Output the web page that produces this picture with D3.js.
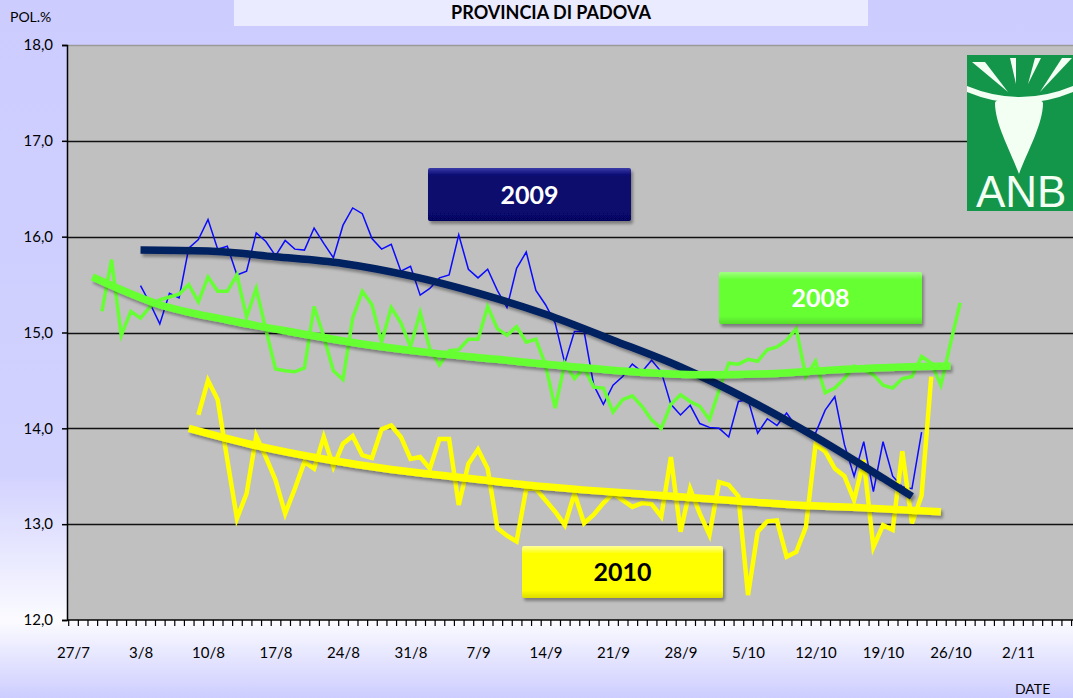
<!DOCTYPE html>
<html>
<head>
<meta charset="utf-8">
<script src="https://cdn.jsdelivr.net/npm/d3@7"></script>
<style>
  html, body { margin: 0; padding: 0; overflow: hidden; }
  svg { display: block; font-family: Lato, 'DejaVu Sans', sans-serif; }
</style>
</head>
<body>
<svg id="chart" width="1073" height="698"></svg>
<script>
// tick labels
const weekLabels = ['27/7', '3/8', '10/8', '17/8', '24/8', '31/8', '7/9', '14/9', '21/9', '28/9', '5/10', '12/10', '19/10', '26/10', '2/11'];
const yTicks = [12, 13, 14, 15, 16, 17, 18];

// daily POL.% readings, one value per day from the start date
const start2008 = '30/7';
const values2008 = [15.22, 15.76, 14.97, 15.22, 15.15, 15.27, 15.34, 15.37, 15.40, 15.50,
  15.32, 15.58, 15.43, 15.43, 15.60, 15.16, 15.46, 15.03, 14.62, 14.60,
  14.59, 14.63, 15.27, 14.96, 14.60, 14.51, 15.15, 15.43, 15.29, 14.90,
  15.26, 15.10, 14.85, 15.21, 14.83, 14.66, 14.81, 14.82, 14.93, 14.93,
  15.27, 15.04, 14.97, 15.06, 14.90, 14.93, 14.66, 14.21, 14.68, 14.52,
  14.63, 14.43, 14.42, 14.17, 14.30, 14.34, 14.23, 14.09, 14.00, 14.25,
  14.35, 14.28, 14.23, 14.09, 14.40, 14.68, 14.67, 14.72, 14.70, 14.82,
  14.85, 14.92, 15.04, 14.54, 14.70, 14.37, 14.42, 14.52, 14.65, 14.61,
  14.56, 14.45, 14.42, 14.52, 14.54, 14.75, 14.68, 14.45, 14.89, 15.31];

const start2009 = '3/8';
const values2009 = [15.49, 15.30, 15.09, 15.41, 15.36, 15.88, 15.97, 16.18, 15.87, 15.90,
  15.60, 15.64, 16.04, 15.95, 15.80, 15.96, 15.87, 15.86, 16.09, 15.93,
  15.78, 16.12, 16.30, 16.24, 15.98, 15.87, 15.92, 15.64, 15.69, 15.39,
  15.46, 15.57, 15.60, 16.02, 15.66, 15.57, 15.66, 15.44, 15.26, 15.67,
  15.84, 15.44, 15.29, 15.10, 14.68, 15.01, 15.01, 14.45, 14.25, 14.45,
  14.54, 14.67, 14.59, 14.71, 14.59, 14.25, 14.14, 14.24, 14.05, 14.01,
  14.00, 13.91, 14.28, 14.30, 13.95, 14.10, 14.03, 14.16, 14.02, 13.95,
  13.95, 14.19, 14.33, 13.83, 13.50, 13.86, 13.34, 13.86, 13.50, 13.39,
  13.37, 13.96];

const start2010 = '9/8';
const values2010 = [14.14, 14.50, 14.30, 13.67, 13.06, 13.32, 13.92, 13.70, 13.46, 13.11,
  13.37, 13.65, 13.58, 13.91, 13.60, 13.84, 13.92, 13.72, 13.69, 13.99,
  14.03, 13.91, 13.68, 13.70, 13.58, 13.89, 13.89, 13.20, 13.63, 13.78,
  13.58, 12.96, 12.88, 12.82, 13.37, 13.37, 13.25, 13.13, 12.99, 13.32,
  13.01, 13.10, 13.22, 13.32, 13.25, 13.18, 13.22, 13.21, 13.08, 13.70,
  12.92, 13.37, 13.11, 12.89, 13.44, 13.41, 13.29, 12.26, 12.92, 13.03,
  13.04, 12.66, 12.71, 12.97, 13.83, 13.76, 13.58, 13.50, 13.25, 13.67,
  12.76, 12.99, 12.94, 13.76, 13.01, 13.30, 14.54];

// trend lines
const trend2008Days = ['29/7', '5/8', '12/8', '19/8', '26/8', '2/9', '9/9', '16/9', '23/9', '30/9', '7/10', '14/10', '21/10', '26/10'];
const trend2008Values = [15.58, 15.29, 15.13, 15.00, 14.88, 14.79, 14.72, 14.65, 14.59, 14.56, 14.57, 14.61, 14.64, 14.65];
const trend2009Days = ['3/8', '10/8', '17/8', '24/8', '31/8', '7/9', '14/9', '21/9', '28/9', '5/10', '12/10', '19/10', '22/10'];
const trend2009Values = [15.86, 15.85, 15.79, 15.72, 15.59, 15.41, 15.19, 14.92, 14.64, 14.30, 13.91, 13.48, 13.29];
const trend2010Days = ['8/8', '15/8', '22/8', '29/8', '5/9', '12/9', '19/9', '26/9', '3/10', '10/10', '17/10', '25/10'];
const trend2010Values = [14.00, 13.82, 13.68, 13.57, 13.49, 13.41, 13.35, 13.30, 13.25, 13.20, 13.17, 13.13];

const DAY = 864e5;
const parseDay = s => {
  const [d, m] = s.split('/').map(Number);
  return new Date(Date.UTC(2009, m - 1, d));
};
const daily = (start, values) => values.map((v, i) => ({date: new Date(parseDay(start).getTime() + i * DAY), value: v}));
const paired = (days, values) => days.map((d, i) => ({date: parseDay(d), value: values[i]}));

const svg = d3.select('#chart');
const W = 1073, H = 698;
const plot = {left: 67, top: 45, bottom: 620};

const defs = svg.append('defs');
const bg = defs.append('linearGradient').attr('id', 'bg').attr('x1', 0).attr('y1', 0).attr('x2', 0).attr('y2', 1);
bg.append('stop').attr('offset', '0%').attr('stop-color', '#ccccff');
bg.append('stop').attr('offset', '68%').attr('stop-color', '#d2d2ff');
bg.append('stop').attr('offset', '89%').attr('stop-color', '#fbfbff');
bg.append('stop').attr('offset', '100%').attr('stop-color', '#cdcdff');

const shadow = defs.append('filter').attr('id', 'shadow').attr('x', '-10%').attr('y', '-10%').attr('width', '130%').attr('height', '140%');
shadow.append('feDropShadow').attr('dx', 2).attr('dy', 3).attr('stdDeviation', 1.5)
  .attr('flood-color', '#000').attr('flood-opacity', 0.35);

function boxGradient(id, top, bottom) {
  const g = defs.append('linearGradient').attr('id', id).attr('x1', 0).attr('y1', 0).attr('x2', 0).attr('y2', 1);
  g.append('stop').attr('offset', '0%').attr('stop-color', top);
  g.append('stop').attr('offset', '15%').attr('stop-color', bottom);
  g.append('stop').attr('offset', '85%').attr('stop-color', bottom);
  g.append('stop').attr('offset', '100%').attr('stop-color', d3.color(bottom).darker(0.4));
}
boxGradient('g2009', '#3a3aa8', '#07076e');
boxGradient('g2008', '#a2ff84', '#66ff33');
boxGradient('g2010', '#ffff9a', '#ffff00');

defs.append('clipPath').attr('id', 'clip')
  .append('rect').attr('x', plot.left).attr('y', plot.top).attr('width', W - plot.left).attr('height', plot.bottom - plot.top);

// background
svg.append('rect').attr('width', W).attr('height', H).attr('fill', 'url(#bg)');

// title box
svg.append('rect').attr('x', 234).attr('y', 0).attr('width', 634).attr('height', 26).attr('fill', '#ebebff');
svg.append('text').attr('x', 551).attr('y', 19).attr('text-anchor', 'middle')
  .attr('font-size', 18).attr('font-weight', 700).attr('fill', '#000').text('PROVINCIA DI PADOVA');

// scales
const x = d3.scaleUtc()
  .domain([new Date(Date.UTC(2009, 6, 26, 12)), new Date(Date.UTC(2009, 10, 8, 12))])
  .range([68.2, 68.2 + 9.643 * 105]);
const y = d3.scaleLinear().domain([12, 18]).range([plot.bottom, plot.top]);

// plot area
svg.append('rect').attr('x', plot.left).attr('y', plot.top).attr('width', W - plot.left).attr('height', plot.bottom - plot.top)
  .attr('fill', '#c0c0c0');
svg.append('line').attr('x1', plot.left).attr('x2', W).attr('y1', plot.top + 0.5).attr('y2', plot.top + 0.5)
  .attr('stroke', '#9a9a9a').attr('stroke-width', 1.5);

svg.append('g').selectAll('line')
  .data(yTicks.filter(t => t > 12 && t < 18))
  .join('line')
  .attr('x1', plot.left).attr('x2', W)
  .attr('y1', d => Math.round(y(d)) + 0.5).attr('y2', d => Math.round(y(d)) + 0.5)
  .attr('stroke', '#111').attr('stroke-width', 1.4);

// logo
const logo = svg.append('g');
logo.append('rect').attr('x', 967).attr('y', 55).attr('width', 110).attr('height', 156).attr('fill', '#14964a');
const rays = [[972, 62, 985, 62, 1008, 92], [1010, 58, 1016, 58, 1016, 84], [1035, 58, 1041, 58, 1028, 84], [1062, 58, 1072, 58, 1040, 92]];
logo.selectAll('path.ray').data(rays).join('path').attr('class', 'ray')
  .attr('d', r => `M${r[0]},${r[1]}L${r[2]},${r[3]}L${r[4]},${r[5]}Z`).attr('fill', '#f4fff4');
logo.append('path').attr('d', 'M967,86 Q1020,108 1073,86 L1073,92 Q1020,114 967,92 Z').attr('fill', '#f4fff4');
logo.append('path')
  .attr('d', 'M995,103 C995,96 1043,96 1043,103 C1043,124 1028,150 1019,174 C1010,150 995,124 995,103 Z')
  .attr('fill', '#f4fff4');
logo.append('text').attr('x', 976).attr('y', 207).attr('font-size', 44).attr('fill', '#f4fff4')
  .attr('font-family', "'Liberation Sans', Arial, sans-serif").text('ANB');

// series
const lineGen = d3.line().x(d => x(d.date)).y(d => y(d.value));
const trendGen = d3.line().x(d => x(d.date)).y(d => y(d.value)).curve(d3.curveMonotoneX);
const chartArea = svg.append('g').attr('clip-path', 'url(#clip)');

const dataSeries = [
  {values: daily(start2009, values2009), color: '#0a0aff', width: 1.5},
  {values: daily(start2008, values2008), color: '#66ff33', width: 3.5},
  {values: daily(start2010, values2010), color: '#ffff00', width: 4.5}
];
chartArea.selectAll('path.data').data(dataSeries).join('path').attr('class', 'data')
  .attr('d', d => lineGen(d.values)).attr('fill', 'none')
  .attr('stroke', d => d.color).attr('stroke-width', d => d.width).attr('stroke-linejoin', 'miter');

const trendSeries = [
  {values: paired(trend2009Days, trend2009Values), color: '#002060'},
  {values: paired(trend2008Days, trend2008Values), color: '#66ff33'},
  {values: paired(trend2010Days, trend2010Values), color: '#ffff00'}
];
chartArea.selectAll('path.trend').data(trendSeries).join('path').attr('class', 'trend')
  .attr('d', d => trendGen(d.values)).attr('fill', 'none')
  .attr('stroke', d => d.color).attr('stroke-width', 7.5).attr('filter', 'url(#shadow)');

// year boxes
const boxes = [
  {label: '2009', x: 428, y: 168, w: 203, h: 53, fill: 'url(#g2009)', text: '#fff'},
  {label: '2008', x: 719, y: 272, w: 203, h: 52, fill: 'url(#g2008)', text: '#fff'},
  {label: '2010', x: 522, y: 546, w: 201, h: 52, fill: 'url(#g2010)', text: '#000'}
];
const box = svg.append('g').selectAll('g').data(boxes).join('g');
box.append('rect').attr('x', d => d.x).attr('y', d => d.y).attr('width', d => d.w).attr('height', d => d.h)
  .attr('rx', 2).attr('fill', d => d.fill).attr('filter', 'url(#shadow)');
box.append('text').attr('x', d => d.x + d.w / 2).attr('y', d => d.y + d.h / 2 + 9)
  .attr('text-anchor', 'middle').attr('font-size', 25).attr('font-weight', 700)
  .attr('fill', d => d.text).text(d => d.label);

// y axis
const yAxis = svg.append('g').attr('transform', `translate(${plot.left},0)`)
  .call(d3.axisLeft(y).tickValues(yTicks).tickSize(5).tickPadding(9).tickFormat(d => d3.format('.1f')(d).replace('.', ',')));
yAxis.select('.domain').attr('stroke', '#000').attr('stroke-width', 1.5);
yAxis.selectAll('.tick line').attr('stroke', '#000').attr('stroke-width', 1.5);
yAxis.selectAll('.tick text').attr('font-size', 15).attr('fill', '#000').attr('font-family', 'Lato, sans-serif');

// x axis: a tick for every day, a label every week
const dayTicks = d3.range(0, 106).map(i => new Date(x.domain()[0].getTime() + i * DAY));
const xTicks = svg.append('g').attr('transform', `translate(0,${plot.bottom})`)
  .call(d3.axisBottom(x).tickValues(dayTicks).tickSize(6).tickFormat(''));
xTicks.select('.domain').attr('stroke', '#000').attr('stroke-width', 1.5).attr('d', `M${plot.left},0H${W}`);
xTicks.selectAll('.tick line').attr('stroke', '#000').attr('stroke-width', 1.2);

const xLabels = svg.append('g').attr('transform', `translate(0,${plot.bottom})`)
  .call(d3.axisBottom(x).tickValues(weekLabels.map(parseDay)).tickSize(0).tickPadding(27).tickFormat(d3.utcFormat('%-d/%-m')));
xLabels.select('.domain').remove();
xLabels.selectAll('.tick text').attr('font-size', 15).attr('fill', '#000').attr('font-family', 'Lato, sans-serif');

// axis titles
svg.append('text').attr('x', 10).attr('y', 22).attr('font-size', 14).attr('fill', '#000').text('POL.%');
svg.append('text').attr('x', 1015).attr('y', 694).attr('font-size', 14).attr('fill', '#000').text('DATE');
</script>
</body>
</html>
